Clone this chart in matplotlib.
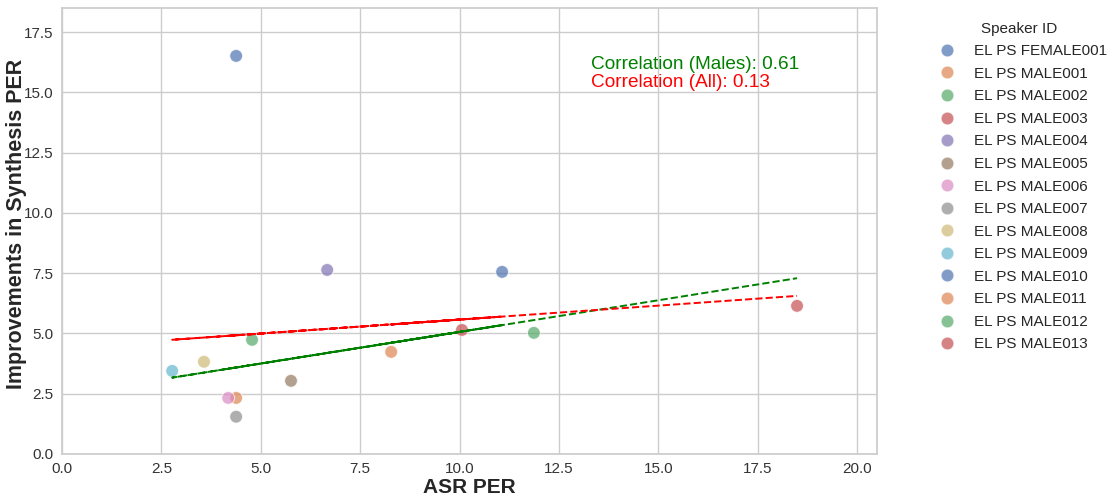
import matplotlib

matplotlib.use("Agg")

import matplotlib.pyplot as plt
import numpy as np
import pandas as pd
import seaborn as sns


speakers = [
    "EL PS FEMALE001", "EL PS MALE001", "EL PS MALE002", "EL PS MALE003",
    "EL PS MALE004", "EL PS MALE005", "EL PS MALE006", "EL PS MALE007",
    "EL PS MALE008", "EL PS MALE009", "EL PS MALE010", "EL PS MALE011",
    "EL PS MALE012", "EL PS MALE013",
]
asr_per = [4.38, 4.38, 4.78, 10.06, 6.67, 5.76, 4.18, 4.38, 3.57, 2.77, 11.07, 8.28, 11.87, 18.49]
improvement = [16.51, 2.32, 4.73, 5.14, 7.63, 3.03, 2.32, 1.54, 3.82, 3.44, 7.55, 4.23, 5.02, 6.14]

sns.set_theme(style="whitegrid")
plt.rcParams["font.family"] = ["Liberation Sans", "DejaVu Sans"]

df = pd.DataFrame({"Speaker ID": speakers, "ASR PER": asr_per, "Improvement": improvement})
males = df[df["Speaker ID"].str.contains("MALE") & ~df["Speaker ID"].str.contains("FEMALE")]

fig = plt.figure(figsize=(11.14, 4.96), dpi=100)
ax = fig.add_axes([0.0557, 0.085, 0.7315, 0.899])

sns.scatterplot(data=df, x="ASR PER", y="Improvement", hue="Speaker ID",
                palette="deep", s=85, alpha=0.7, ax=ax)

# regression lines, plotted over unsorted x like the original
m_all, b_all = np.polyfit(df["ASR PER"], df["Improvement"], 1)
m_m, b_m = np.polyfit(males["ASR PER"], males["Improvement"], 1)
ax.plot(males["ASR PER"], m_m * males["ASR PER"] + b_m, "--", color="green", linewidth=1.4)
ax.plot(df["ASR PER"], m_all * df["ASR PER"] + b_all, "--", color="red", linewidth=1.4)

ax.text(13.3, 16.15, "Correlation (Males): 0.61", color="green", fontsize=13.7, va="center")
ax.text(13.3, 15.4, "Correlation (All): 0.13", color="red", fontsize=13.7, va="center")

ax.set_xlim(0, 20.5)
ax.set_ylim(0, 18.5)
ax.set_xlabel("ASR PER", fontsize=15, fontweight="bold", labelpad=1)
ax.set_ylabel("Improvements in Synthesis PER", fontsize=15.5, fontweight="bold")
ax.yaxis.set_label_coords(-0.043, 0.515)
ax.tick_params(labelsize=11, colors="#333333")
ax.tick_params(axis="x", pad=0)
ax.tick_params(axis="y", pad=0)

ax.legend(title="Speaker ID", loc="upper left", bbox_to_anchor=(1.05, 1.0),
          frameon=False, fontsize=11, title_fontsize=11, labelspacing=0.56)

fig.savefig("out.png", dpi=100)
